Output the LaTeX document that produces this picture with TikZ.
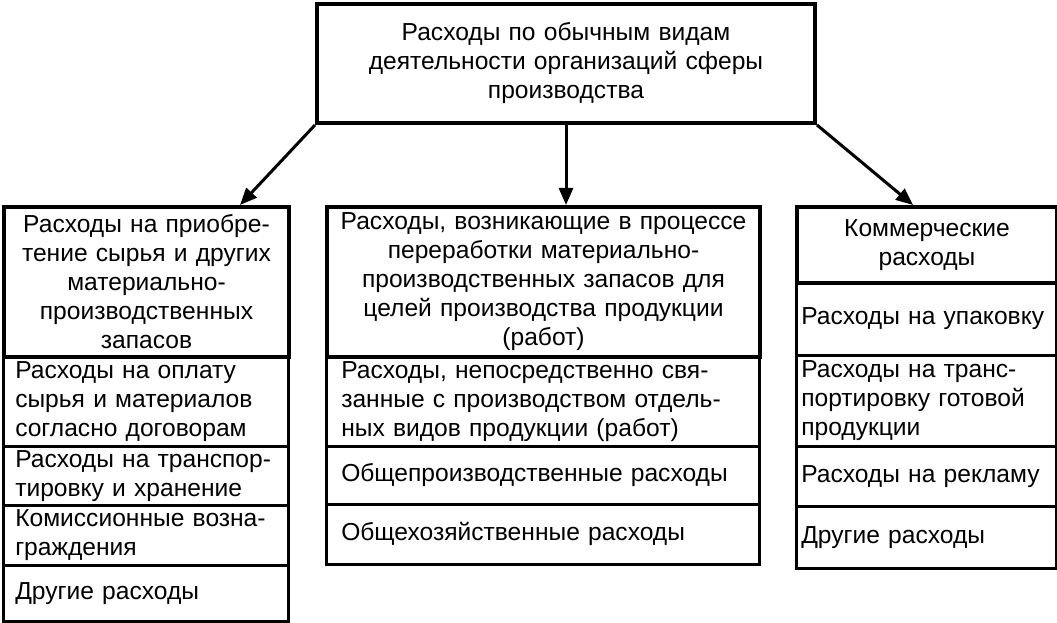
\documentclass[tikz,border=0pt]{standalone}
\usepackage{fontspec}
\setmainfont{Liberation Sans}
\usetikzlibrary{arrows.meta}
\newcommand\fsz{\fontsize{24.6bp}{29bp}\selectfont}
\tikzset{
  cellbase/.style={draw, anchor=north west, inner ysep=0pt, font=\fsz},
  thickbox/.style={cellbase, line width=4bp, align=center},
  subbox/.style={cellbase, line width=2.5bp, align=left},
  conn/.style={line width=3bp, -{Triangle[length=17bp,width=14bp]}}
}
\begin{document}
\begin{tikzpicture}[x=1bp,y=-1bp]
\useasboundingbox (0,0) rectangle (1057,623);
% left column sub boxes
\node[subbox, minimum width=285bp, minimum height=90bp, text width=261bp, inner xsep=12bp] (l1) at (2,355) {Расходы на оплату\\сырья и материалов\\согласно договорам};
\node[subbox, minimum width=285bp, minimum height=59bp, text width=261bp, inner xsep=12bp] (l2) at (2,445) {Расходы на транспор-\\тировку и хранение};
\node[subbox, minimum width=285bp, minimum height=60bp, text width=261bp, inner xsep=12bp] (l3) at (2,504) {Комиссионные возна-\\граждения};
\node[subbox, minimum width=285bp, minimum height=56bp, text width=261bp, inner xsep=12bp] (l4) at (2,564) {Другие расходы};
% middle column sub boxes
\node[subbox, minimum width=433bp, minimum height=90bp, text width=403bp, inner xsep=15bp] (m1) at (325,355) {Расходы, непосредственно свя-\\занные с производством отдель-\\ных видов продукции (работ)};
\node[subbox, minimum width=433bp, minimum height=58bp, text width=403bp, inner xsep=15bp] (m2) at (325,445) {Общепроизводственные расходы};
\node[subbox, minimum width=433bp, minimum height=60bp, text width=403bp, inner xsep=15bp] (m3) at (325,503) {Общехозяйственные расходы};
% right column sub boxes
\node[subbox, minimum width=260bp, minimum height=73bp, text width=250bp, inner xsep=5bp] (r1) at (795,281) {Расходы на упаковку};
\node[subbox, minimum width=260bp, minimum height=91bp, text width=250bp, inner xsep=5bp] (r2) at (795,354) {Расходы на транс-\\портировку готовой\\продукции};
\node[subbox, minimum width=260bp, minimum height=60bp, text width=250bp, inner xsep=5bp] (r3) at (795,445) {Расходы на рекламу};
\node[subbox, minimum width=260bp, minimum height=62bp, text width=250bp, inner xsep=5bp] (r4) at (795,505) {Другие расходы};
% headers
\node[thickbox, minimum width=285bp, minimum height=150bp, text width=277bp, inner xsep=4bp] (lh) at (2,205) {Расходы на приобре-\\тение сырья и других\\материально-\\производственных\\запасов};
\node[thickbox, minimum width=433bp, minimum height=150bp, text width=425bp, inner xsep=4bp] (mh) at (325,205) {Расходы, возникающие в процессе\\переработки материально-\\производственных запасов для\\целей производства продукции\\(работ)};
\node[thickbox, minimum width=260bp, minimum height=76bp, text width=252bp, inner xsep=4bp] (rh) at (795,205) {Коммерческие\\расходы};
% top
\node[thickbox, minimum width=498bp, minimum height=119bp, text width=490bp, inner xsep=4bp] (top) at (315,2) {Расходы по обычным видам\\деятельности организаций сферы\\производства};
% connectors
\coordinate (la) at (240,205);
\coordinate (ra) at (913,205);
\draw[conn] (top.south west) -- (la);
\draw[conn] (top.south) -- (top.south |- mh.north);
\draw[conn] (top.south east) -- (ra);
\end{tikzpicture}
\end{document}
